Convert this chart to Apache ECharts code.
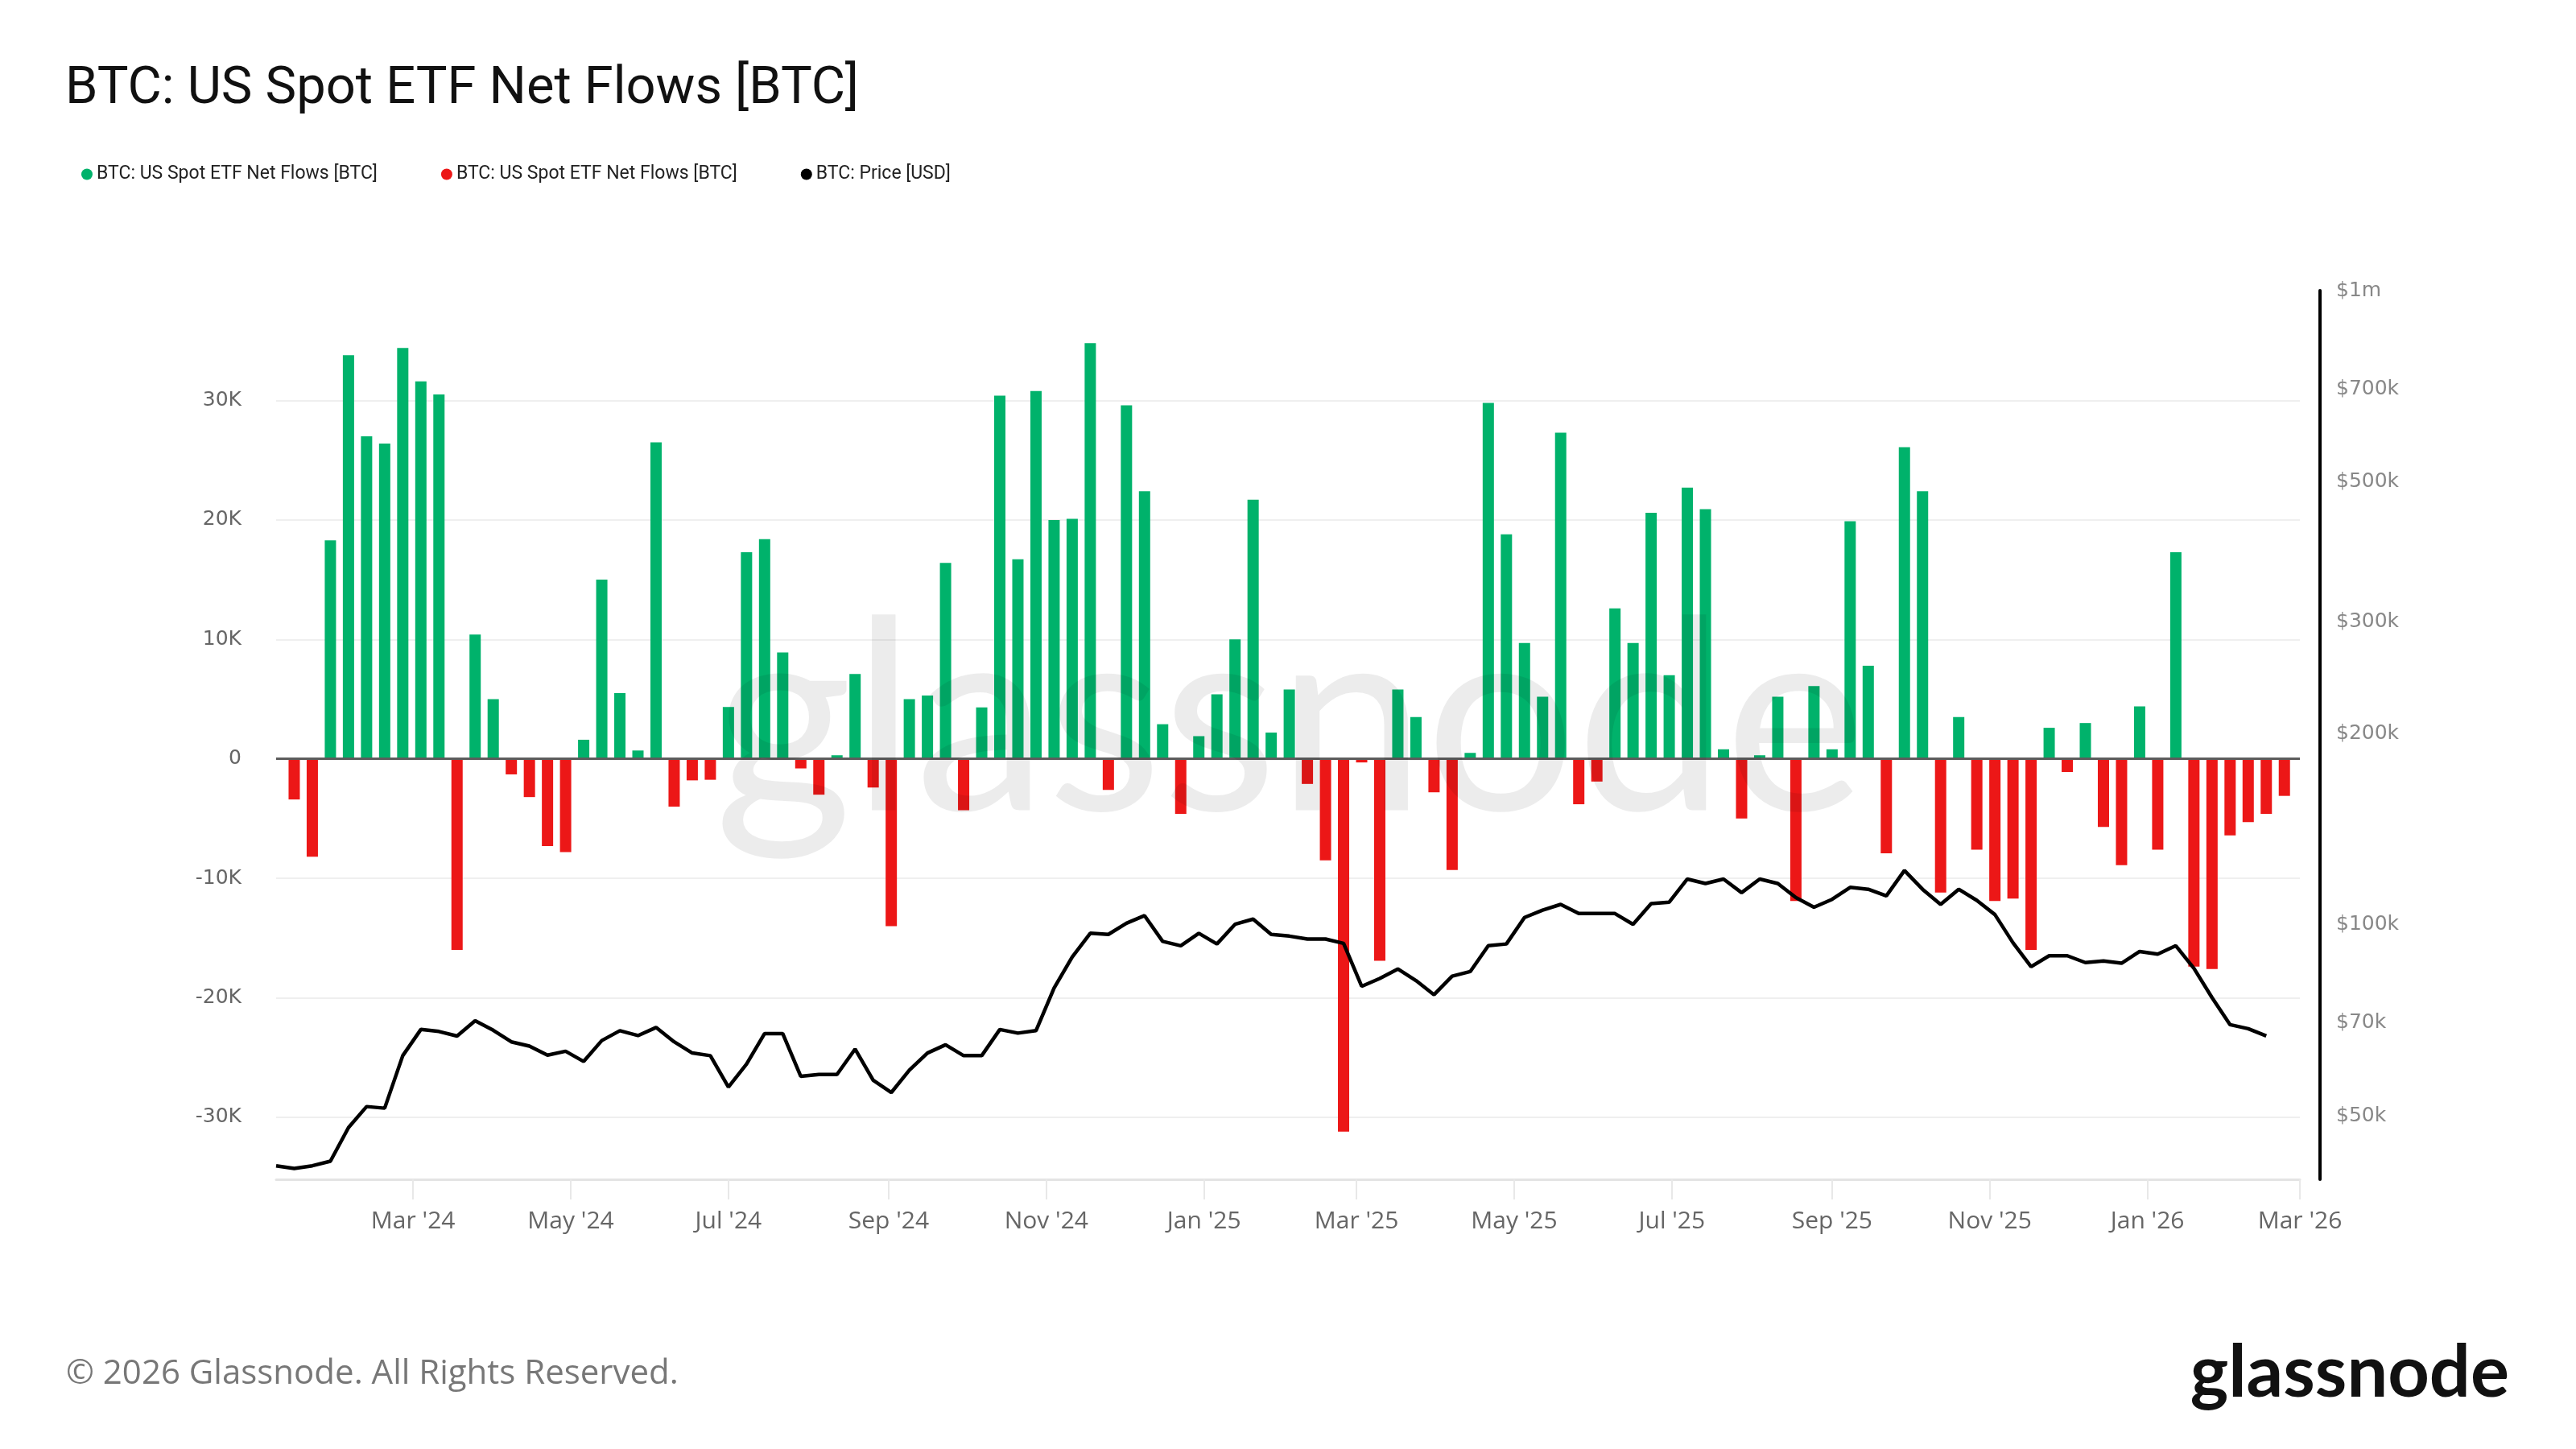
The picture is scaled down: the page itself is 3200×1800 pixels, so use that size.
<!DOCTYPE html>
<html>
<head>
<meta charset="utf-8">
<script src="https://cdn.jsdelivr.net/npm/echarts@6/dist/echarts.min.js"></script>
<style>
  html, body { margin: 0; padding: 0; background: #fff; }
  #chart { width: 3200px; height: 1800px; }
</style>
</head>
<body>
<div id="chart"></div>
<script>
// weekly data, first week starts Mon 2024-01-08
const firstWeek = '2024-01-08'
const weekCount = 112

// net flows per week in BTC (thousands), weeks 2..112 (Jan 15 2024 -> Feb 23 2026)
const netFlowsK = [
  -3.4, -8.2, 18.3, 33.8, 27.0, 26.4, 34.4, 31.6, 30.5, -16.0,
  10.4, 5.0, -1.3, -3.2, -7.3, -7.8, 1.6, 15.0, 5.5, 0.7,
  26.5, -4.0, -1.8, -1.75, 4.35, 17.3, 18.4, 8.9, -0.8, -3.0,
  0.3, 7.1, -2.4, -14.0, 5.0, 5.3, 16.4, -4.3, 4.3, 30.4,
  16.7, 30.8, 20.0, 20.1, 34.8, -2.6, 29.6, 22.4, 2.9, -4.6,
  1.9, 5.4, 10.0, 21.7, 2.2, 5.8, -2.1, -8.5, -31.2, -0.3,
  -16.9, 5.8, 3.5, -2.8, -9.3, 0.5, 29.8, 18.8, 9.7, 5.2,
  27.3, -3.8, -1.9, 12.6, 9.7, 20.6, 7.0, 22.7, 20.9, 0.8,
  -5.0, 0.3, 5.2, -11.9, 6.1, 0.8, 19.9, 7.8, -7.9, 26.1,
  22.4, -11.2, 3.5, -7.6, -11.9, -11.7, -16.0, 2.6, -1.1, 3.0,
  -5.7, -8.9, 4.4, -7.6, 17.3, -17.4, -17.6, -6.4, -5.3, -4.6,
  -3.1
]

// BTC price in thousands of USD, weeks 1..111 (Jan 8 2024 -> Feb 16 2026)
const priceK = [
  41.7, 41.3, 41.7, 42.4, 47.9, 51.7, 51.4, 62.2, 68.4, 67.9,
  66.8, 70.6, 68.2, 65.4, 64.4, 62.3, 63.2, 60.9, 65.7, 68.1,
  66.9, 68.9, 65.4, 62.8, 62.2, 55.5, 60.3, 67.4, 67.4, 57.7,
  58.1, 58.1, 63.7, 56.9, 54.4, 59.0, 62.8, 64.7, 62.2, 62.2,
  68.4, 67.5, 68.1, 79.5, 89.0, 97.0, 96.6, 100.6, 103.4, 94.2,
  92.7, 97.0, 93.3, 100.2, 102.1, 96.6, 96.0, 95.0, 95.0, 93.5,
  80.0, 82.3, 85.2, 81.7, 77.6, 83.0, 84.4, 92.7, 93.3, 102.7,
  105.5, 107.7, 104.2, 104.2, 104.2, 100.2, 108.0, 108.6, 118.1, 116.2,
  118.1, 112.4, 118.1, 116.2, 110.4, 106.6, 109.7, 114.6, 113.8, 111.1,
  121.8, 113.8, 107.7, 113.8, 109.3, 103.8, 93.7, 85.9, 89.4, 89.4,
  87.2, 87.7, 87.0, 90.8, 89.9, 92.7, 85.4, 76.8, 69.6, 68.6,
  66.8
]

// axis ticks
const monthTicks = [
  '2024-03-01', '2024-05-01', '2024-07-01', '2024-09-01', '2024-11-01',
  '2025-01-01', '2025-03-01', '2025-05-01', '2025-07-01', '2025-09-01',
  '2025-11-01', '2026-01-01', '2026-03-01'
]
const flowTicks = [-30000, -20000, -10000, 0, 10000, 20000, 30000]
const priceTicks = [50000, 70000, 100000, 200000, 300000, 500000, 700000, 1000000]

const seriesName = 'BTC: US Spot ETF Net Flows [BTC]'
const monthNames = ['Jan', 'Feb', 'Mar', 'Apr', 'May', 'Jun', 'Jul', 'Aug', 'Sep', 'Oct', 'Nov', 'Dec']
const DAY = 86400000

const toTs = (s) => Date.parse(s + 'T00:00:00Z')
const startTs = toTs(firstWeek)
const weeks = []
for (let i = 0; i < weekCount; i++) weeks.push(startTs + i * 7 * DAY)
const monthTs = monthTicks.map(toTs)

// split flows by sign (bars start on the second week)
const inflows = []
const outflows = []
netFlowsK.forEach((v, i) => {
  const pt = [weeks[i + 1], Math.round(v * 1000)]
  if (v >= 0) inflows.push(pt)
  else outflows.push(pt)
})
const priceData = priceK.map((p, i) => [weeks[i], p * 1000])

const chart = echarts.init(document.getElementById('chart'))

const option = {
  animation: false,
  backgroundColor: '#ffffff',
  title: {
    text: 'BTC: US Spot ETF Net Flows [BTC]',
    left: 76,
    top: 74,
    textStyle: { fontFamily: 'Roboto', fontSize: 65, fontWeight: 'normal', color: '#111' }
  },
  legend: {
    left: 96,
    top: 200,
    icon: 'circle',
    itemWidth: 14,
    itemHeight: 14,
    itemGap: 79,
    textStyle: { fontFamily: 'Roboto', fontSize: 23, color: '#222' },
    data: [seriesName, seriesName + '\u200b', 'BTC: Price [USD]']
  },
  grid: { left: 343, right: 343, top: 361, bottom: 335 },
  xAxis: {
    type: 'value',
    min: startTs,
    max: monthTs[monthTs.length - 1],
    axisLine: { onZero: false, lineStyle: { color: '#e4e4e4', width: 3 } },
    axisTick: {
      show: true,
      customValues: monthTs,
      length: 25,
      lineStyle: { color: '#e8e8e8', width: 2 }
    },
    axisLabel: {
      customValues: monthTs,
      formatter: (v) => {
        const d = new Date(v)
        return monthNames[d.getUTCMonth()] + " '" + String(d.getUTCFullYear()).slice(2)
      },
      color: '#666',
      fontFamily: 'Open Sans',
      fontSize: 30,
      margin: 37
    },
    splitLine: { show: false }
  },
  yAxis: [
    {
      type: 'value',
      min: -35200,
      max: 39200,
      position: 'left',
      axisLine: { show: false, onZero: false },
      axisTick: { show: false, customValues: flowTicks },
      axisLabel: {
        customValues: flowTicks,
        formatter: (v) => (v === 0 ? '0' : v / 1000 + 'K'),
        color: '#666',
        fontFamily: 'DejaVu Sans',
        fontSize: 25,
        margin: 43
      },
      splitLine: { show: true, lineStyle: { color: '#efefef', width: 2 } }
    },
    {
      type: 'log',
      min: 39700,
      max: 1000000,
      position: 'right',
      offset: 25,
      axisLine: { show: true, onZero: false, lineStyle: { color: '#000', width: 4 } },
      axisTick: { show: false, customValues: priceTicks },
      axisLabel: {
        customValues: priceTicks,
        formatter: (v) => (v >= 1000000 ? '$' + Math.round(v / 1000000) + 'm' : '$' + Math.round(v / 1000) + 'k'),
        color: '#888',
        fontFamily: 'DejaVu Sans',
        fontSize: 25,
        margin: 20
      },
      splitLine: { show: false }
    }
  ],
  series: [
    {
      name: seriesName,
      type: 'bar',
      data: inflows,
      barWidth: 14,
      barGap: '-100%',
      itemStyle: { color: '#00b26b' },
      markLine: {
        silent: true,
        symbol: ['none', 'none'],
        label: { show: false },
        lineStyle: { color: '#5c5c5c', width: 3, type: 'solid' },
        data: [{ yAxis: 0 }]
      }
    },
    {
      name: seriesName + '\u200b',
      type: 'bar',
      data: outflows,
      barWidth: 14,
      barGap: '-100%',
      itemStyle: { color: '#ec1717' }
    },
    {
      name: 'BTC: Price [USD]',
      type: 'line',
      yAxisIndex: 1,
      data: priceData,
      showSymbol: false,
      z: 5,
      itemStyle: { color: '#000' },
      lineStyle: { color: '#000', width: 4.5 }
    }
  ],
  graphic: [
    {
      type: 'text',
      silent: true,
      z: 100,
      style: {
        text: 'glassnode',
        x: 1602,
        y: 900,
        align: 'center',
        verticalAlign: 'middle',
        fontFamily: 'Lato',
        fontSize: 330,
        fill: 'rgba(0,0,0,0.075)'
      }
    },
    {
      type: 'text',
      silent: true,
      style: {
        text: '© 2026 Glassnode. All Rights Reserved.',
        x: 82,
        y: 1707,
        verticalAlign: 'middle',
        fontFamily: 'Open Sans',
        fontSize: 42,
        fill: '#777'
      }
    },
    {
      type: 'text',
      silent: true,
      style: {
        text: 'glassnode',
        x: 3117,
        y: 1706,
        align: 'right',
        verticalAlign: 'middle',
        fontFamily: 'Lato',
        fontWeight: 'bold',
        fontSize: 90,
        fill: '#111'
      }
    }
  ]
}

chart.setOption(option)
</script>
</body>
</html>
